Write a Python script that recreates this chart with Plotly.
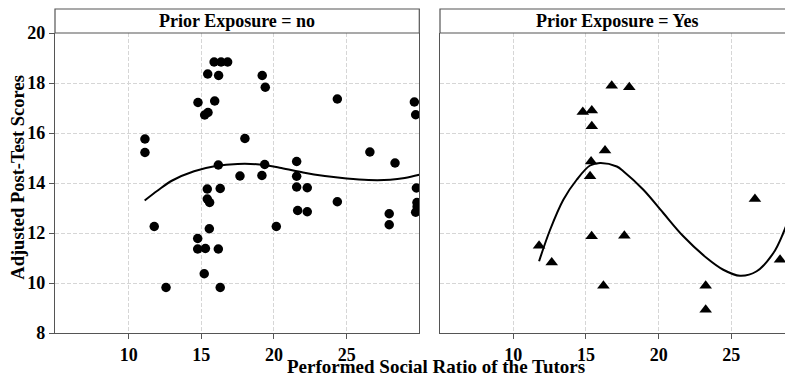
import plotly.graph_objects as go

# ---- data ----
no_x = [11.12, 11.12, 15.44, 16.19, 15.88, 16.36, 16.81, 19.19, 19.40, 14.77,
        15.92, 15.23, 15.46, 24.36, 29.66, 29.75, 18.0, 26.6, 28.33, 16.17,
        19.36, 21.56, 17.66, 19.17, 21.56, 15.41, 16.30, 21.56, 22.29, 15.41,
        15.57, 24.36, 29.80, 29.84, 29.85, 29.75, 21.63, 22.29, 27.93, 27.93,
        11.76, 15.55, 20.16, 14.75, 14.75, 15.28, 16.17, 15.20, 12.57, 16.30]
no_y = [15.76, 15.22, 18.36, 18.30, 18.84, 18.84, 18.84, 18.30, 17.83, 17.22,
        17.28, 16.72, 16.82, 17.36, 17.24, 16.73, 15.78, 15.24, 14.80, 14.72,
        14.74, 14.86, 14.28, 14.30, 14.27, 13.76, 13.78, 13.84, 13.81, 13.36,
        13.22, 13.25, 13.80, 13.22, 13.05, 12.83, 12.90, 12.85, 12.77, 12.33,
        12.26, 12.17, 12.26, 11.78, 11.36, 11.38, 11.36, 10.37, 9.82, 9.82]

yes_x = [16.77, 17.98, 14.78, 15.40, 15.40, 16.31, 15.35, 15.28, 26.63, 15.39,
         17.64, 11.77, 12.64, 28.36, 16.20, 23.24, 23.24]
yes_y = [17.89, 17.83, 16.84, 16.90, 16.27, 15.30, 14.86, 14.27, 13.36, 11.87,
         11.89, 11.49, 10.82, 10.93, 9.89, 9.89, 8.93]

fit_no_x = [11.1, 12.0, 13.0, 14.5, 16.0, 17.5, 19.0, 20.5, 22.0, 23.5, 25.0, 26.5, 28.0, 29.0, 30.0]
fit_no_y = [13.3, 13.7, 14.1, 14.47, 14.68, 14.76, 14.74, 14.6, 14.42, 14.28, 14.18, 14.12, 14.13, 14.2, 14.33]

fit_yes_x = [11.77, 12.53, 13.44, 14.36, 15.28, 15.97, 17.12, 17.57, 18.95, 20.32,
             21.7, 23.31, 24.45, 25.6, 26.75, 27.9, 28.58, 29.27, 29.6]
fit_yes_y = [10.87, 12.13, 13.33, 14.13, 14.7, 14.8, 14.66, 14.47, 13.73, 12.8,
             11.87, 11.0, 10.53, 10.29, 10.47, 11.2, 12.0, 13.07, 13.6]

x_ticks = [10, 15, 20, 25]
y_ticks = [8, 10, 12, 14, 16, 18, 20]
panel_titles = ["Prior Exposure = no", "Prior Exposure = Yes"]
x_title = "Performed Social Ratio of the Tutors"
y_title = "Adjusted Post-Test Scores"

FONT = "Liberation Serif"
AX = "#555555"
GRID = "#d6d6d6"
DASH = "4px,2px"

fig = go.Figure()
fig.add_trace(go.Scatter(x=no_x, y=no_y, mode="markers", xaxis="x", yaxis="y",
                         marker=dict(symbol="circle", size=9.5, color="black"),
                         showlegend=False))
fig.add_trace(go.Scatter(x=fit_no_x, y=fit_no_y, mode="lines", xaxis="x", yaxis="y",
                         line=dict(color="black", width=2, shape="spline"),
                         showlegend=False))
fig.add_trace(go.Scatter(x=yes_x, y=yes_y, mode="markers", xaxis="x2", yaxis="y2",
                         marker=dict(symbol="triangle-up", size=11, color="black"),
                         showlegend=False))
fig.add_trace(go.Scatter(x=fit_yes_x, y=fit_yes_y, mode="lines", xaxis="x2", yaxis="y2",
                         line=dict(color="black", width=2, shape="spline"),
                         showlegend=False))

# page body has an 8px default margin, so the figure is laid out 8px up/left
OFF = 8
W, H = 793 - OFF, 377 - OFF
ml, mr, mt = 55 - OFF, 0, 33.3 - OFF
mb = H - (333.3 - OFF)
pw = W - ml - mr
ph = H - mt - mb
d1 = [0, (419.3 - 55) / pw]
d2 = [(440 - 55) / pw, 1.0]

tickfont = dict(family=FONT, size=18, color="black", weight="bold")
common_x = dict(tickmode="array", tickvals=x_ticks, showgrid=True, gridcolor=GRID,
                griddash=DASH, gridwidth=1, zeroline=False, showline=True,
                linecolor=AX, linewidth=1.2, ticks="outside", ticklen=5,
                tickcolor=AX, tickfont=tickfont)

fig.update_layout(
    width=W, height=H,
    margin=dict(l=ml, r=mr, t=mt, b=mb, autoexpand=False),
    paper_bgcolor="white", plot_bgcolor="white",
    xaxis=dict(domain=d1, range=[4.93, 30.0], anchor="y", mirror=False, **common_x),
    xaxis2=dict(domain=d2, range=[4.95, 29.25], anchor="y2", **common_x),
    yaxis=dict(domain=[0, 1], range=[8, 20], anchor="x", tickmode="array", tickvals=y_ticks,
               showgrid=True, gridcolor=GRID, griddash=DASH, zeroline=False,
               showline=True, linecolor=AX, linewidth=1.2, mirror=True,
               ticks="outside", ticklen=5, tickcolor=AX, tickfont=tickfont),
    yaxis2=dict(domain=[0, 1], range=[8, 20], anchor="x2", tickmode="array", tickvals=y_ticks,
                showgrid=True, gridcolor=GRID, griddash=DASH, zeroline=False,
                showline=True, linecolor=AX, linewidth=1.2, mirror=False,
                showticklabels=False, ticks=""),
)

strip_top = 1 + (33.3 - 9.3) / ph
for dom, title in zip([d1, d2], panel_titles):
    fig.add_shape(type="rect", xref="paper", yref="paper", x0=dom[0], x1=dom[1],
                  y0=1, y1=strip_top, line=dict(color=AX, width=1.2), fillcolor="white",
                  layer="above")
    fig.add_annotation(x=(dom[0] + dom[1]) / 2, y=(1 + strip_top) / 2, xref="paper", yref="paper",
                       text=title, showarrow=False, xanchor="center", yanchor="middle",
                       font=dict(family=FONT, size=18, color="black", weight="bold"))

fig.add_annotation(x=(436 - 55) / pw, y=-(367 - 333.3) / ph, xref="paper", yref="paper",
                   text=x_title, showarrow=False, xanchor="center", yanchor="middle",
                   font=dict(family=FONT, size=19, color="black", weight="bold"))
fig.add_annotation(x=-(55 - 18) / pw, y=(333.3 - 178) / ph, xref="paper", yref="paper",
                   text=y_title, showarrow=False, textangle=-90, xanchor="center", yanchor="middle",
                   font=dict(family=FONT, size=18.5, color="black", weight="bold"))

fig.write_html("out.html")
